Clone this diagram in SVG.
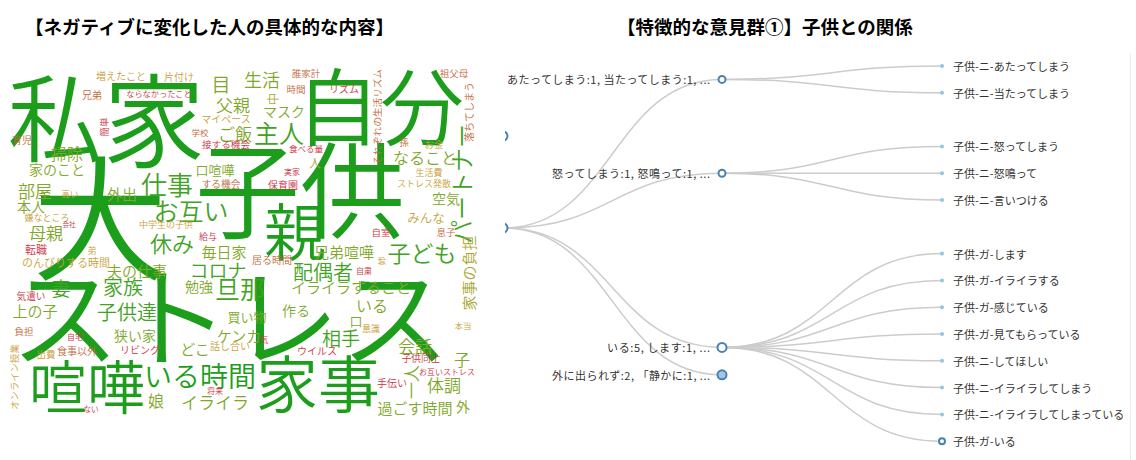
<svg xmlns="http://www.w3.org/2000/svg" width="1136" height="460" viewBox="0 0 1136 460">
<style>
.t{font-family:"Noto Sans CJK JP","Noto Sans CJK SC",sans-serif;font-weight:700;font-size:18.5px;fill:#000}
.w{font-family:"Noto Sans CJK JP","Noto Sans CJK SC",sans-serif;font-weight:350;text-anchor:middle;dominant-baseline:central}
.k1{fill:#1c9e1c}.k2{fill:#3fa324}.k3{fill:#7fa82a}.k4{fill:#a9a632}.k5{fill:#c9a03a}.k6{fill:#c0683a}.k7{fill:#cc3244}
.lk{fill:none;stroke:#cccccc;stroke-width:1.5}
.nd{fill:#fff;stroke:steelblue;stroke-width:2}
.lf{fill:#8ec7e6}
.lb{font-family:"Noto Sans CJK JP","Noto Sans CJK SC",sans-serif;font-size:11px;fill:#333;dominant-baseline:central}
</style>
<defs><clipPath id="cp"><rect x="505" y="40" width="631" height="420"/></clipPath></defs>
<rect width="1136" height="460" fill="#fff"/>
<text class="t" x="25" y="34">【ネガティブに変化した人の具体的な内容】</text>
<text class="t" x="617" y="34">【特徴的な意見群①】子供との関係</text>
<g id="wordcloud">
<text class="w k1" x="55" y="113" font-size="95">私</text>
<text class="w k1" x="154" y="115" font-size="102">家</text>
<text class="w k1" x="380" y="102" font-size="84">自分</text>
<text class="w k1" x="100" y="211" font-size="135">大</text>
<text class="w k1" x="300" y="184" font-size="105">子供</text>
<text class="w k1" x="295" y="229" font-size="62">親</text>
<text class="w k1" x="230" y="311" font-size="110">ストレス</text>
<text class="w k1" x="87" y="384" font-size="58">喧嘩</text>
<text class="w k1" x="318" y="381" font-size="62">家事</text>
<text class="w k1" x="200" y="375" font-size="28">いる時間</text>
<text class="w k2" x="167" y="183" font-size="26">仕事</text>
<text class="w k2" x="191" y="210" font-size="25">お互い</text>
<text class="w k2" x="172" y="242" font-size="22">休み</text>
<text class="w k2" x="279" y="132" font-size="25">主人</text>
<text class="w k2" x="422" y="252" font-size="23">子ども</text>
<text class="w k2" x="323" y="271" font-size="20">配偶者</text>
<text class="w k2" x="240" y="288" font-size="25">旦那</text>
<text class="w k2" x="123" y="286" font-size="20">家族</text>
<text class="w k2" x="127" y="311" font-size="20">子供達</text>
<text class="w k2" x="61" y="287" font-size="19">妻</text>
<text class="w k2" x="218" y="269" font-size="19">コロナ</text>
<text class="w k2" x="341" y="337" font-size="19">相手</text>
<text class="w k2" transform="translate(460,184) rotate(-90)" font-size="24">パートナー</text>
<text class="w k3" x="221" y="83" font-size="19">目</text>
<text class="w k3" x="233" y="104" font-size="17">父親</text>
<text class="w k3" x="262" y="79" font-size="18">生活</text>
<text class="w k3" x="46" y="232" font-size="17">母親</text>
<text class="w k3" x="35" y="190" font-size="17">部屋</text>
<text class="w k3" x="137" y="270" font-size="15">夫の仕事</text>
<text class="w k3" x="224" y="251" font-size="15">毎日家</text>
<text class="w k3" x="344" y="251" font-size="15">兄弟喧嘩</text>
<text class="w k3" x="351" y="286" font-size="15">イライラすること</text>
<text class="w k3" x="296" y="310" font-size="14">作る</text>
<text class="w k3" x="372" y="305" font-size="16">いる</text>
<text class="w k3" x="415" y="345" font-size="17">会話</text>
<text class="w k3" x="444" y="384" font-size="17">体調</text>
<text class="w k3" x="415" y="407" font-size="15">過ごす時間</text>
<text class="w k3" x="463" y="406" font-size="14">外</text>
<text class="w k3" x="35" y="310" font-size="15">上の子</text>
<text class="w k3" x="135" y="335" font-size="14">狭い家</text>
<text class="w k3" x="195" y="348" font-size="15">どこ</text>
<text class="w k3" x="156" y="400" font-size="16">娘</text>
<text class="w k3" x="215" y="401" font-size="17">イライラ</text>
<text class="w k3" x="239" y="335" font-size="15">ケンカ</text>
<text class="w k3" x="247" y="316" font-size="13">買い物</text>
<text class="w k3" x="356" y="320" font-size="13">口</text>
<text class="w k3" transform="translate(410,382) rotate(-90)" font-size="17">一人</text>
<text class="w k3" x="462" y="359" font-size="16">子</text>
<text class="w k3" x="199" y="286" font-size="14">勉強</text>
<text class="w k3" x="235" y="133" font-size="17">ご飯</text>
<text class="w k3" x="67" y="153" font-size="16">掃除</text>
<text class="w k3" x="57" y="169" font-size="14">家のこと</text>
<text class="w k3" x="215" y="169" font-size="13">口喧嘩</text>
<text class="w k3" x="284" y="111" font-size="14">マスク</text>
<text class="w k4" transform="translate(272,99) rotate(-90)" font-size="12">中</text>
<text class="w k3" x="425" y="157" font-size="16">なること</text>
<text class="w k3" x="446" y="198" font-size="14">空気</text>
<text class="w k3" x="122" y="193" font-size="15">外出</text>
<text class="w k3" x="31" y="206" font-size="14">本人</text>
<text class="w k4" x="315" y="162" font-size="12">人</text>
<text class="w k4" transform="translate(468,273) rotate(-90)" font-size="15">家事の負担</text>
<text class="w k5" x="121" y="75" font-size="10">増えたこと</text>
<text class="w k5" x="179" y="76" font-size="10">片付け</text>
<text class="w k5" x="226" y="118" font-size="10">マイペース</text>
<text class="w k5" x="434" y="144" font-size="9.5">お金</text>
<text class="w k5" x="429" y="172" font-size="9">生活費</text>
<text class="w k5" x="70" y="193" font-size="8.5">高い</text>
<text class="w k5" x="47" y="217" font-size="9">嫌なところ</text>
<text class="w k5" x="166" y="224" font-size="9">中学生の子供</text>
<text class="w k5" x="92" y="250" font-size="9">弟</text>
<text class="w k5" x="66" y="262" font-size="11">のんびりする時間</text>
<text class="w k5" x="424" y="183" font-size="9">ストレス発散</text>
<text class="w k5" x="426" y="217" font-size="12.5">みんな</text>
<text class="w k5" transform="translate(381,261) rotate(-90)" font-size="8.5">姉</text>
<text class="w k5" x="371" y="328" font-size="9">意識</text>
<text class="w k5" x="463" y="325" font-size="8.5">本当</text>
<text class="w k5" x="46" y="354" font-size="9.5">出費</text>
<text class="w k5" transform="translate(14,377) rotate(-90)" font-size="9.4">オンライン授業</text>
<text class="w k5" x="230" y="345" font-size="10">話し合い</text>
<text class="w k6" transform="translate(377,117) rotate(-90)" font-size="9.6">それぞれの生活リズム</text>
<text class="w k6" x="92" y="94" font-size="10">兄弟</text>
<text class="w k6" x="22" y="139" font-size="10">育児</text>
<text class="w k6" x="200" y="132" font-size="8.5">学校</text>
<text class="w k6" x="296" y="89" font-size="9.5">時間</text>
<text class="w k6" x="306" y="73" font-size="9.5">誰家計</text>
<text class="w k6" x="454" y="73" font-size="9.5">祖父母</text>
<text class="w k6" transform="translate(468,112) rotate(-90)" font-size="10">落ちてしまう</text>
<text class="w k6" x="404" y="142" font-size="9.5">孫</text>
<text class="w k6" x="446" y="232" font-size="9.5">息子</text>
<text class="w k6" x="272" y="259" font-size="10">居る時間</text>
<text class="w k6" x="77" y="350" font-size="10">食事以外</text>
<text class="w k6" x="24" y="331" font-size="9.5">負担</text>
<text class="w k6" x="221" y="184" font-size="9.7">する機会</text>
<text class="w k7" x="159" y="93" font-size="8.2">ならなかったこと</text>
<text class="w k7" transform="translate(104,127) rotate(-90)" font-size="9.5">簡単</text>
<text class="w k7" x="226" y="144" font-size="9.6">接する機会</text>
<text class="w k7" x="344" y="88" font-size="10">リズム</text>
<text class="w k7" x="306" y="148" font-size="8.5">食べる量</text>
<text class="w k7" x="292" y="171" font-size="8">実家</text>
<text class="w k7" x="69" y="224" font-size="6.5">会社</text>
<text class="w k7" x="208" y="236" font-size="9">給与</text>
<text class="w k7" x="36" y="249" font-size="11">転職</text>
<text class="w k7" x="31" y="296" font-size="9.7">気遣い</text>
<text class="w k7" x="283" y="184" font-size="10">保育園</text>
<text class="w k7" x="381" y="232" font-size="9.5">自室</text>
<text class="w k7" x="364" y="270" font-size="8">自粛</text>
<text class="w k7" x="75" y="336" font-size="8">自宅</text>
<text class="w k7" x="140" y="349" font-size="10">リビング</text>
<text class="w k7" x="215" y="390" font-size="8">将来</text>
<text class="w k7" x="91" y="408" font-size="7.5">ない</text>
<text class="w k7" x="264" y="339" font-size="8.5">気</text>
<text class="w k7" x="317" y="350" font-size="10">ウイルス</text>
<text class="w k7" x="421" y="358" font-size="9.7">子供同士</text>
<text class="w k7" x="447" y="371" font-size="8">お互いストレス</text>
<text class="w k7" x="392" y="382" font-size="10">手伝い</text>
</g>
<line x1="1130.5" y1="53" x2="1130.5" y2="460" stroke="#ececec" stroke-width="1"/>
<g clip-path="url(#cp)">
<g id="links">
<path class="lk" d="M503,228C612.5,228 612.5,79.4 722,79.4"/>
<path class="lk" d="M503,228C612.5,228 612.5,173.2 722,173.2"/>
<path class="lk" d="M503,228C612.5,228 612.5,347.4 722,347.4"/>
<path class="lk" d="M503,228C612.5,228 612.5,374.8 722,374.8"/>
<path class="lk" d="M722,79.4C832,79.4 832,66 942,66"/>
<path class="lk" d="M722,79.4C832,79.4 832,92.8 942,92.8"/>
<path class="lk" d="M722,173.2C832,173.2 832,146.4 942,146.4"/>
<path class="lk" d="M722,173.2C832,173.2 832,173.2 942,173.2"/>
<path class="lk" d="M722,173.2C832,173.2 832,200 942,200"/>
<path class="lk" d="M722,347.4C832,347.4 832,253.6 942,253.6"/>
<path class="lk" d="M722,347.4C832,347.4 832,280.4 942,280.4"/>
<path class="lk" d="M722,347.4C832,347.4 832,307.2 942,307.2"/>
<path class="lk" d="M722,347.4C832,347.4 832,334 942,334"/>
<path class="lk" d="M722,347.4C832,347.4 832,360.8 942,360.8"/>
<path class="lk" d="M722,347.4C832,347.4 832,387.6 942,387.6"/>
<path class="lk" d="M722,347.4C832,347.4 832,414.4 942,414.4"/>
<path class="lk" d="M722,347.4C832,347.4 832,441.2 942,441.2"/>
</g>
<g id="root"><circle class="nd" cx="503" cy="228" r="4.5"/></g>
<g id="node-top"><circle class="nd" cx="503" cy="136" r="4.5"/></g>
</g>
<g id="n1"><circle class="nd" cx="722" cy="79.4" r="3.5" stroke="#3b8fd8"/><text class="lb" x="710" y="79.4" text-anchor="end" textLength="203" lengthAdjust="spacing">あたってしまう:1, 当たってしまう:1, ...</text></g>
<g id="n2"><circle class="nd" cx="722" cy="173.2" r="3.5" stroke="#3b8fd8"/><text class="lb" x="710" y="173.2" text-anchor="end" textLength="158" lengthAdjust="spacing">怒ってしまう:1, 怒鳴って:1, ...</text></g>
<g id="n3"><circle class="nd" cx="722" cy="347.4" r="4.5"/><text class="lb" x="710" y="347.4" text-anchor="end" textLength="103" lengthAdjust="spacing">いる:5, します:1, ...</text></g>
<g id="n4"><circle class="nd" cx="722" cy="374.8" r="4.5" style="fill:#a9c3e0"/><text class="lb" x="710" y="374.8" text-anchor="end" textLength="158" lengthAdjust="spacing">外に出られず:2, 「静かに:1, ...</text></g>
<g id="l1"><circle class="lf" cx="942" cy="66" r="2"/><text class="lb" x="953" y="66">子供-ニ-あたってしまう</text></g>
<g id="l2"><circle class="lf" cx="942" cy="92.8" r="2"/><text class="lb" x="953" y="92.8">子供-ニ-当たってしまう</text></g>
<g id="l3"><circle class="lf" cx="942" cy="146.4" r="2"/><text class="lb" x="953" y="146.4">子供-ニ-怒ってしまう</text></g>
<g id="l4"><circle class="lf" cx="942" cy="173.2" r="2"/><text class="lb" x="953" y="173.2">子供-ニ-怒鳴って</text></g>
<g id="l5"><circle class="lf" cx="942" cy="200" r="2"/><text class="lb" x="953" y="200">子供-ニ-言いつける</text></g>
<g id="l6"><circle class="lf" cx="942" cy="253.6" r="2"/><text class="lb" x="953" y="253.6">子供-ガ-します</text></g>
<g id="l7"><circle class="lf" cx="942" cy="280.4" r="2"/><text class="lb" x="953" y="280.4">子供-ガ-イライラする</text></g>
<g id="l8"><circle class="lf" cx="942" cy="307.2" r="2"/><text class="lb" x="953" y="307.2">子供-ガ-感じている</text></g>
<g id="l9"><circle class="lf" cx="942" cy="334" r="2"/><text class="lb" x="953" y="334">子供-ガ-見てもらっている</text></g>
<g id="l10"><circle class="lf" cx="942" cy="360.8" r="2"/><text class="lb" x="953" y="360.8">子供-ニ-してほしい</text></g>
<g id="l11"><circle class="lf" cx="942" cy="387.6" r="2"/><text class="lb" x="953" y="387.6">子供-ニ-イライラしてしまう</text></g>
<g id="l12"><circle class="lf" cx="942" cy="414.4" r="2"/><text class="lb" x="953" y="414.4">子供-ニ-イライラしてしまっている</text></g>
<g id="l13"><circle class="nd" cx="942" cy="441.2" r="3" stroke="#3b8fd8"/><text class="lb" x="953" y="441.2">子供-ガ-いる</text></g>
</svg>
